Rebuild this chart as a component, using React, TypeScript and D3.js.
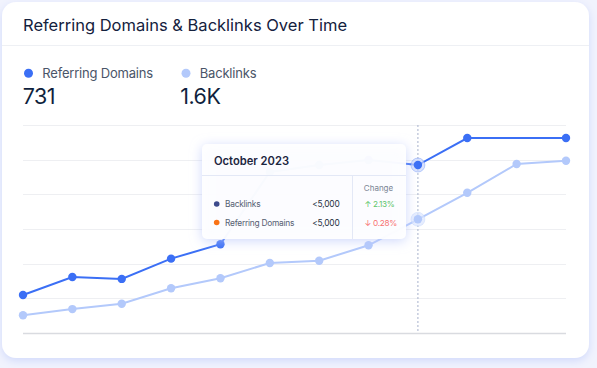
import React, { useEffect, useRef } from 'react'
import * as d3 from 'd3'

const W = 597
const H = 368
const FONT = 'Inter, "Noto Sans", sans-serif'

const months = ['Feb 2023', 'Mar 2023', 'Apr 2023', 'May 2023', 'Jun 2023', 'Jul 2023', 'Aug 2023', 'Sep 2023', 'Oct 2023', 'Nov 2023', 'Dec 2023', 'Jan 2024']
const referringDomains = [219, 323, 312, 429, 512, 929, 969, 998, 969, 1125, 1125, 1125]
const backlinks = [102, 138, 169, 258, 316, 404, 417, 506, 656, 809, 975, 994]
// months where the referring domains line has no marker in the original
const referringNoMarker = ['Dec 2023']
const yTicks = [0, 200, 400, 600, 800, 1000, 1200]

const legendItems = [
  { name: 'Referring Domains', value: '731', color: '#3b6ff5' },
  { name: 'Backlinks', value: '1.6K', color: '#b3c9fb' },
]
const tooltipRows = [
  { name: 'Backlinks', value: '<5,000', dot: '#3d4b8c', change: '↑ 2.13%', changeColor: '#5cc56a' },
  { name: 'Referring Domains', value: '<5,000', dot: '#f97316', change: '↓ 0.28%', changeColor: '#f87171' },
]
const hoverMonth = 'Oct 2023'

const margin = { top: 125, right: 31, bottom: 35, left: 23 }

export default function App() {
  const ref = useRef<SVGSVGElement | null>(null)

  useEffect(() => {
    const svg = d3.select(ref.current)
    svg.selectAll('*').remove()

    const defs = svg.append('defs')
    const cardShadow = defs.append('filter').attr('id', 'cardShadow')
      .attr('x', -0.1).attr('y', -0.1).attr('width', 1.2).attr('height', 1.2)
    cardShadow.append('feDropShadow').attr('dx', 0).attr('dy', 3).attr('stdDeviation', 4)
      .attr('flood-color', '#c9d3fb').attr('flood-opacity', 0.8)
    const tipShadow = defs.append('filter').attr('id', 'tipShadow')
      .attr('x', -0.2).attr('y', -0.3).attr('width', 1.4).attr('height', 1.6)
    tipShadow.append('feDropShadow').attr('dx', 0).attr('dy', 2).attr('stdDeviation', 6)
      .attr('flood-color', '#b9c6fa').attr('flood-opacity', 0.75)

    // page + card
    svg.append('rect').attr('width', W).attr('height', H).attr('fill', '#f1f3fd')
    svg.append('rect').attr('x', 2).attr('y', 2).attr('width', 587).attr('height', 356)
      .attr('rx', 14).attr('fill', '#ffffff').attr('filter', 'url(#cardShadow)')
    svg.append('line').attr('x1', 2).attr('x2', 589).attr('y1', 45.5).attr('y2', 45.5)
      .attr('stroke', '#eef0f4').attr('stroke-width', 1.2)

    svg.append('text').attr('x', 23).attr('y', 31)
      .attr('font-family', FONT).attr('font-size', 16.5).attr('fill', '#14213d')
      .text('Referring Domains & Backlinks Over Time')

    // legend
    const legendX = [28.5, 186]
    legendItems.forEach((d, i) => {
      const g = svg.append('g').attr('transform', `translate(${legendX[i]},0)`)
      g.append('circle').attr('cx', 0).attr('cy', 73.3).attr('r', 4.5).attr('fill', d.color)
      g.append('text').attr('x', 13.8).attr('y', 78.3)
        .attr('font-family', FONT).attr('font-size', 13).attr('letter-spacing', -0.2)
        .attr('fill', '#4a5568').text(d.name)
      g.append('text').attr('x', -5.8).attr('y', 104)
        .attr('font-family', FONT).attr('font-size', 21.5).attr('fill', '#0f1f3d')
        .attr('letter-spacing', -0.5).text(d.value)
    })

    const x = d3.scalePoint<string>().domain(months).range([margin.left, W - margin.right])
    const y = d3.scaleLinear().domain([0, 1200]).range([H - margin.bottom, margin.top])

    // grid
    svg.append('g').selectAll('line').data(yTicks).join('line')
      .attr('x1', margin.left).attr('x2', W - margin.right)
      .attr('y1', d => Math.round(y(d)) + 0.5).attr('y2', d => Math.round(y(d)) + 0.5)
      .attr('stroke', d => (d === 0 ? '#d9dbe0' : '#eeeff2'))
      .attr('stroke-width', d => (d === 0 ? 1.4 : 1.2))

    const hx = x(hoverMonth) as number
    svg.append('line').attr('x1', hx).attr('x2', hx).attr('y1', y(1200)).attr('y2', y(0))
      .attr('stroke', '#a7b1cc').attr('stroke-width', 1).attr('stroke-dasharray', '2,2')

    const line = d3.line<number>().x((d, i) => x(months[i]) as number).y(d => y(d))

    const series = [
      { values: backlinks, color: '#b3c9fb', halo: '#dbe5fe', skip: [] as string[] },
      { values: referringDomains, color: '#3b6ff5', halo: '#c9d6fc', skip: referringNoMarker },
    ]
    series.forEach(s => {
      svg.append('path').datum(s.values).attr('d', line)
        .attr('fill', 'none').attr('stroke', s.color).attr('stroke-width', 2)
      const hi = months.indexOf(hoverMonth)
      svg.append('circle').attr('cx', hx).attr('cy', y(s.values[hi])).attr('r', 7)
        .attr('fill', s.halo).attr('fill-opacity', 0.7)
        .attr('stroke', s.color).attr('stroke-opacity', 0.3)
      const pts = s.values.map((v, i) => ({ m: months[i], v })).filter(p => !s.skip.includes(p.m))
      svg.append('g').selectAll('circle').data(pts).join('circle')
        .attr('cx', d => x(d.m) as number).attr('cy', d => y(d.v))
        .attr('r', 4.2).attr('fill', s.color)
    })

    // tooltip
    const tip = svg.append('g').attr('transform', 'translate(202,144)')
    tip.append('rect').attr('width', 204).attr('height', 95).attr('rx', 5)
      .attr('fill', '#ffffff').attr('fill-opacity', 0.93).attr('filter', 'url(#tipShadow)')
    tip.append('line').attr('x1', 0).attr('x2', 204).attr('y1', 31.5).attr('y2', 31.5)
      .attr('stroke', '#e3e8f6')
    tip.append('line').attr('x1', 150.5).attr('x2', 150.5).attr('y1', 31.5).attr('y2', 95)
      .attr('stroke', '#e3e8f6')
    tip.append('text').attr('x', 12).attr('y', 20.5)
      .attr('font-family', FONT).attr('font-size', 11.2).attr('font-weight', 600)
      .attr('fill', '#1c2640').text(hoverMonth.replace('Oct', 'October'))
    tip.append('text').attr('x', 176.5).attr('y', 46.5).attr('text-anchor', 'middle')
      .attr('font-family', FONT).attr('font-size', 8).attr('fill', '#7b8494').text('Change')
    tooltipRows.forEach((r, i) => {
      const cy = 60 + i * 18.5
      tip.append('circle').attr('cx', 14.7).attr('cy', cy).attr('r', 2.8).attr('fill', r.dot)
      tip.append('text').attr('x', 23).attr('y', cy + 3)
        .attr('font-family', FONT).attr('font-size', 8.4).attr('letter-spacing', -0.25)
        .attr('fill', '#566072').text(r.name)
      tip.append('text').attr('x', 137.5).attr('y', cy + 3).attr('text-anchor', 'end')
        .attr('font-family', FONT).attr('font-size', 8.4).attr('letter-spacing', -0.2)
        .attr('fill', '#273142').text(r.value)
      tip.append('text').attr('x', 162.5).attr('y', cy + 3)
        .attr('font-family', FONT).attr('font-size', 8.2).attr('letter-spacing', -0.3)
        .attr('fill', r.changeColor).text(r.change)
    })
  }, [])

  return (
    <div style={{ position: 'fixed', left: 0, top: 0 }}>
      <svg ref={ref} width={W} height={H} style={{ display: 'block' }} />
    </div>
  )
}
